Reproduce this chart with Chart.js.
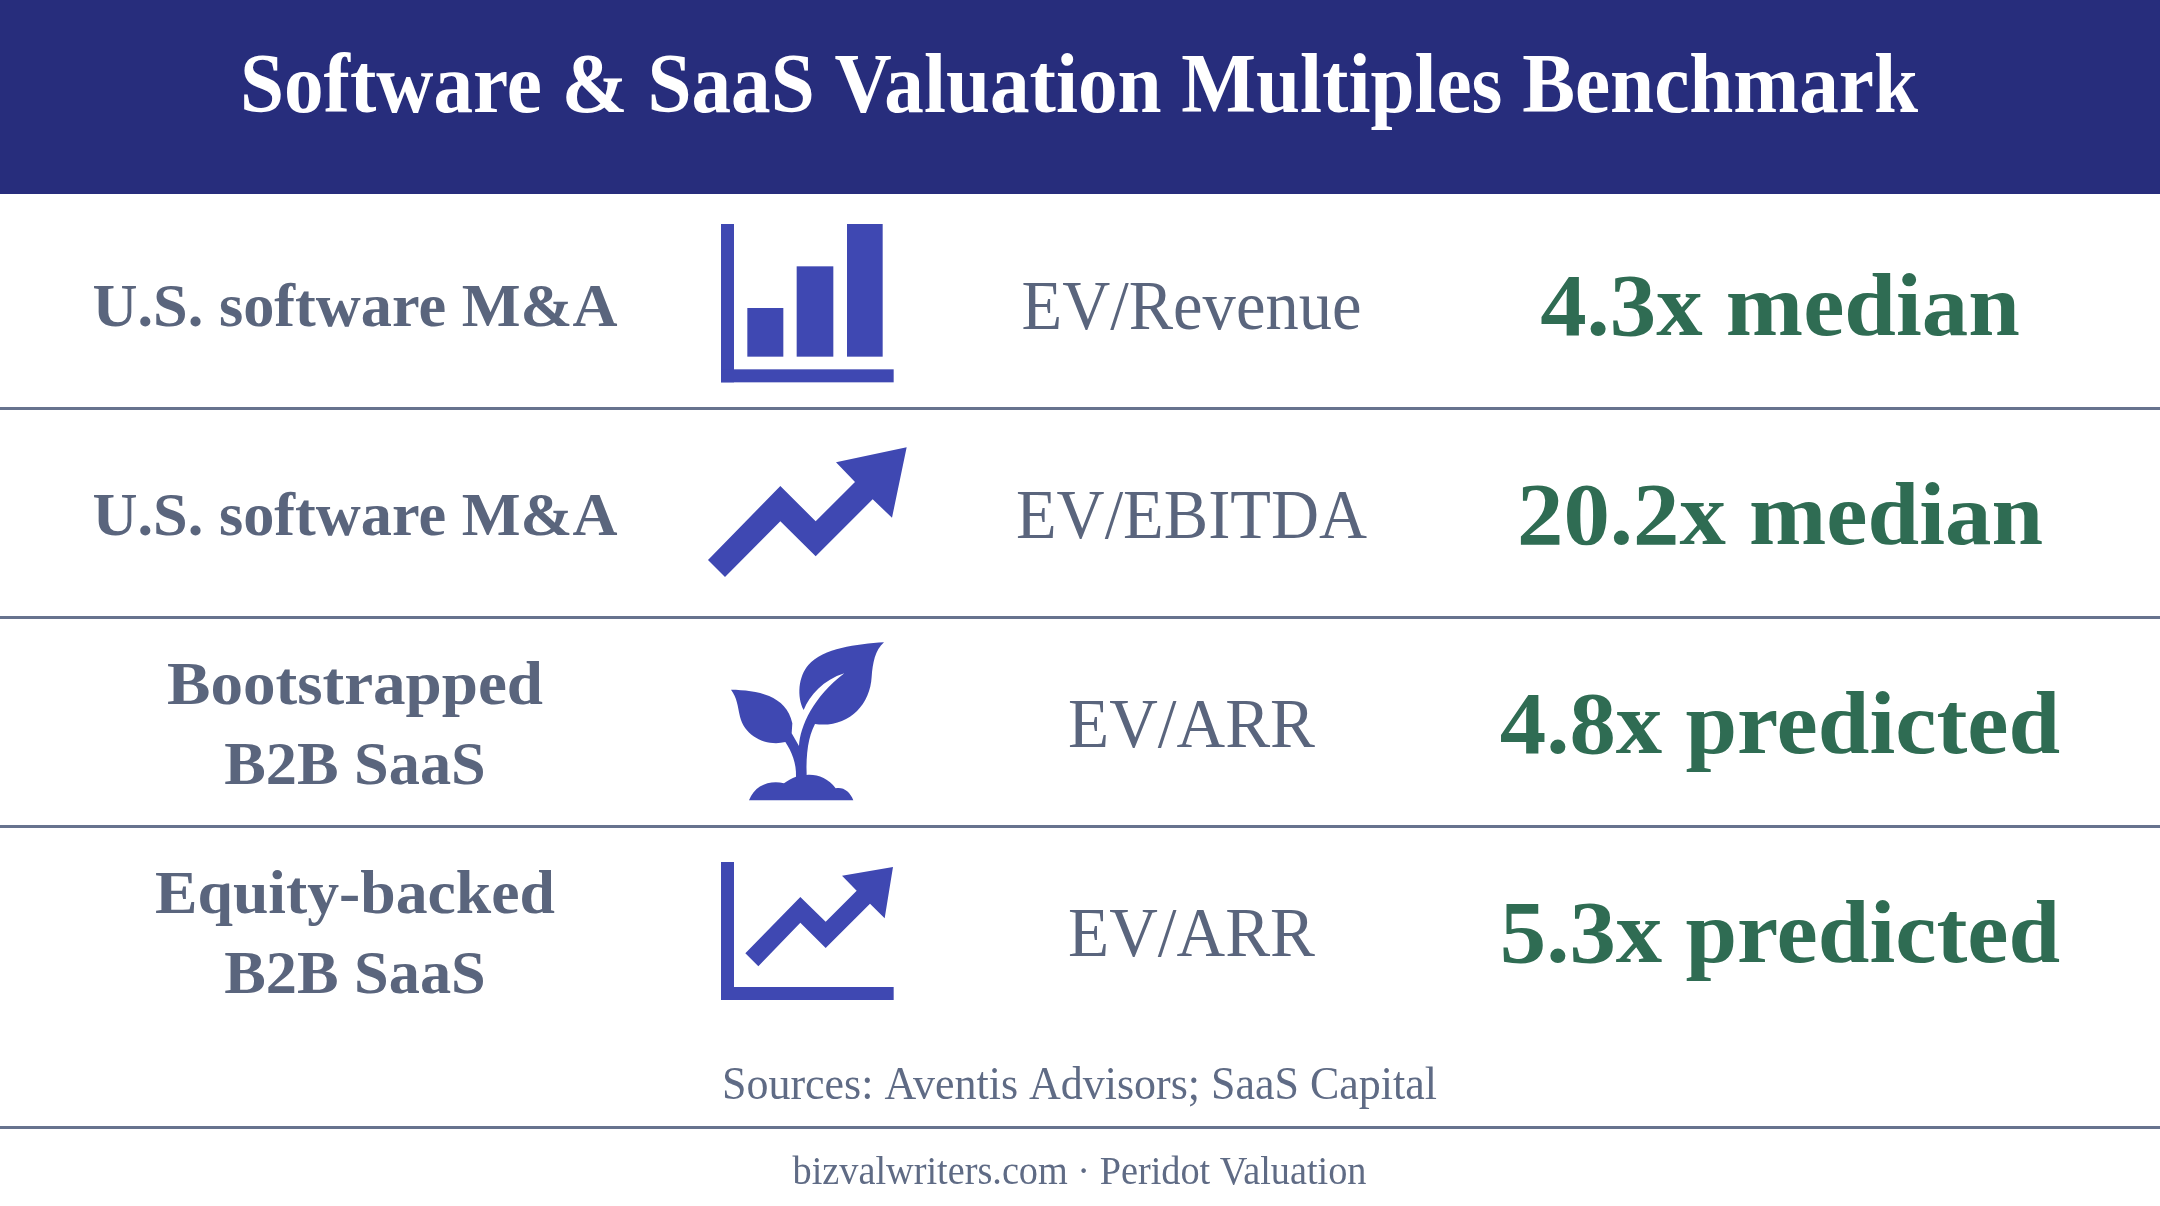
<!DOCTYPE html>
<html><head><meta charset="utf-8">
<style>html,body{margin:0;padding:0;background:#fff}canvas{display:block}</style>
<script src="https://cdn.jsdelivr.net/npm/chart.js@4"></script>
</head><body><canvas id="c" width="2160" height="1206"></canvas>
<script>
// ---- data ----
const titleText = 'Software & SaaS Valuation Multiples Benchmark';
const segments = [['U.S. software M&A'],['U.S. software M&A'],['Bootstrapped','B2B SaaS'],['Equity-backed','B2B SaaS']];
const metrics = ['EV/Revenue','EV/EBITDA','EV/ARR','EV/ARR'];
const multiples = [4.3,20.2,4.8,5.3];
const multipleKinds = ['median','median','predicted','predicted'];
const iconNames = ['bars','arrow','sprout','trend'];
const sourceNote = 'Sources: Aventis Advisors; SaaS Capital';
const footerNote = 'bizvalwriters.com \u00b7 Peridot Valuation';

// ---- layout & style ----
const FONT = '"Liberation Serif"';
const W = 2160, H = 1206, HEADER_H = 194;
const COL = {segment:355, icon:806.5, metric:1191.5, value:1780};
const C = {header:'#272d7c', icon:'#3f48b2', label:'#5a657d', green:'#2f6c53', rule:'#67738e', note:'#5f6b85'};
const STY = {
  title:{font:'bold 85px '+FONT, color:'#ffffff', ref:titleText, w:1678},
  segment:{font:'bold 62px '+FONT, color:C.label, ref:'U.S. software M&A', w:525, base:[22], base2:[-18,62]},
  metric:{font:'70px '+FONT, color:C.label, ref:'EV/Revenue', w:340, base:[25.5]},
  value:{font:'bold 88px '+FONT, color:C.green, ref:'20.2x median', w:526, base:[31]},
  source:{font:'47px '+FONT, color:C.note, ref:sourceNote, w:715},
  footer:{font:'40px '+FONT, color:C.note, ref:footerNote, w:574}
};
const FIT_WIDTHS = {'Bootstrapped':376,'Equity-backed':400,'EV/ARR':247};

// ---- icons (glyph outlines, drawn into canvases used as point styles) ----
function iconCanvas(name){
  const cv=document.createElement('canvas'); cv.width=261; cv.height=201;
  const g=cv.getContext('2d'); g.fillStyle=C.icon;
  const poly=(p)=>{g.beginPath();p.forEach((q,i)=>i?g.lineTo(q[0],q[1]):g.moveTo(q[0],q[1]));g.closePath();g.fill();};
  const rect=(x0,y0,x1,y1)=>g.fillRect(x0,y0,x1-x0,y1-y0);
  const off={bars:[4,-3],arrow:[4,-212],sprout:[4,-1],trend:[4,-210]}[name];
  g.translate(off[0],off[1]); g.scale(1/3,1/3);
  if(name==='bars'){
    rect(123,72,162,547);rect(123,508,641,547);
    rect(202,324,310,470);rect(350,199,460,470);rect(501,72,608,470);
  }else if(name==='arrow'){
    poly([[84,1080],[301,858],[407,964],[525,846],[468,787],[680,742],[636,953],[578,898],[407,1069],[301,964],[135,1131]]);
  }else if(name==='trend'){
    rect(123,726,162,1140);rect(123,1101,641,1140);
    poly([[196,1000],[361,831],[437,905],[530,812],[486,767],[639,741],[614,895],[570,851],[437,984],[361,908],[235,1039]]);
  }else{
    g.beginPath();g.moveTo(612,67);
    g.bezierCurveTo(585,90,578,130,575,170);
    g.bezierCurveTo(570,260,500,325,405,312);
    g.bezierCurveTo(385,350,378,400,380,465);
    g.bezierCurveTo(410,462,445,475,467,505);
    g.bezierCurveTo(490,500,510,515,520,541);
    g.lineTo(207,541);
    g.bezierCurveTo(225,495,270,480,312,490);
    g.bezierCurveTo(325,480,335,475,348,470);
    g.bezierCurveTo(350,430,335,395,316,366);
    g.bezierCurveTo(260,380,195,350,180,290);
    g.bezierCurveTo(172,255,172,235,153,209);
    g.bezierCurveTo(230,210,320,225,337,310);
    g.lineTo(335,340);g.lineTo(357,378);
    g.bezierCurveTo(360,320,400,230,493,160);
    g.bezierCurveTo(430,180,390,225,371,270);
    g.bezierCurveTo(350,230,355,170,385,135);
    g.bezierCurveTo(430,85,530,72,612,67);
    g.closePath();g.fill();
  }
  return cv;
}

function fitText(ctx,sty,text,x,y){
  ctx.save();
  ctx.font=sty.font;ctx.fillStyle=sty.color;ctx.textAlign='center';ctx.textBaseline='alphabetic';
  const k=FIT_WIDTHS[text]?FIT_WIDTHS[text]/ctx.measureText(text).width:sty.w/ctx.measureText(sty.ref).width;
  ctx.translate(x,y);ctx.scale(k,1);
  ctx.fillText(text,0,0);
  ctx.restore();
}

const tablePlugin={
  id:'table',
  beforeDraw(chart){
    const ctx=chart.ctx;
    ctx.save();ctx.fillStyle='#fff';ctx.fillRect(0,0,W,H);
    ctx.fillStyle=C.header;ctx.fillRect(0,0,W,HEADER_H);ctx.restore();
  },
  afterDatasetsDraw(chart){
    const ctx=chart.ctx;
    const y=chart.scales.y, x=chart.scales.x;
    fitText(ctx,STY.title,titleText,x.getPixelForValue(1079),112);
    chart.data.datasets.forEach((ds,di)=>{
      if(!ds.cellText) return;
      const sty=STY[ds.cellStyle];
      chart.getDatasetMeta(di).data.forEach((pt,i)=>{
        const lines=ds.cellText[i];
        const bases=lines.length>1?sty.base2:sty.base;
        lines.forEach((t,j)=>fitText(ctx,sty,t,pt.x,pt.y+bases[j]));
      });
    });
    const mid=x.getPixelForValue(1079.5);
    fitText(ctx,STY.source,sourceNote,mid,1099);
    ctx.save();ctx.strokeStyle=C.rule;ctx.lineWidth=3;ctx.beginPath();ctx.moveTo(x.left,1127.5);ctx.lineTo(x.right,1127.5);ctx.stroke();ctx.restore();
    fitText(ctx,STY.footer,footerNote,mid,1184);
  }
};

const rowIdx=segments.map((_,i)=>i);
const column=(cx)=>rowIdx.map(i=>({x:cx,y:i}));

new Chart(document.getElementById('c'),{
  type:'scatter',
  plugins:[tablePlugin],
  data:{datasets:[
    {label:'Segment',data:column(COL.segment),pointRadius:0,cellText:segments,cellStyle:'segment'},
    {label:'Icon',data:column(COL.icon),pointStyle:iconNames.map(iconCanvas),pointRadius:10,clip:false},
    {label:'Metric',data:column(COL.metric),pointRadius:0,cellText:metrics.map(m=>[m]),cellStyle:'metric'},
    {label:'Multiple',data:column(COL.value),pointRadius:0,cellText:multiples.map((v,i)=>[v.toFixed(1)+'x '+multipleKinds[i]]),cellStyle:'value'}
  ]},
  options:{
    responsive:false,animation:false,devicePixelRatio:1,
    layout:{autoPadding:false,padding:{top:199,left:0,right:0,bottom:171}},
    plugins:{legend:{display:false},tooltip:{enabled:false},title:{display:false}},
    scales:{
      x:{type:'linear',min:0,max:W,display:false},
      y:{type:'category',labels:segments.map(s=>s.join(' ')),offset:true,display:true,
        afterFit(s){s.width=0;},
        border:{display:false},
        ticks:{display:false},
        grid:{drawTicks:false,offset:true,lineWidth:3,
          color:(c)=>(c.index===undefined||c.index===0||c.index>=segments.length)?'rgba(0,0,0,0)':C.rule}}
    }
  }
});
</script></body></html>
